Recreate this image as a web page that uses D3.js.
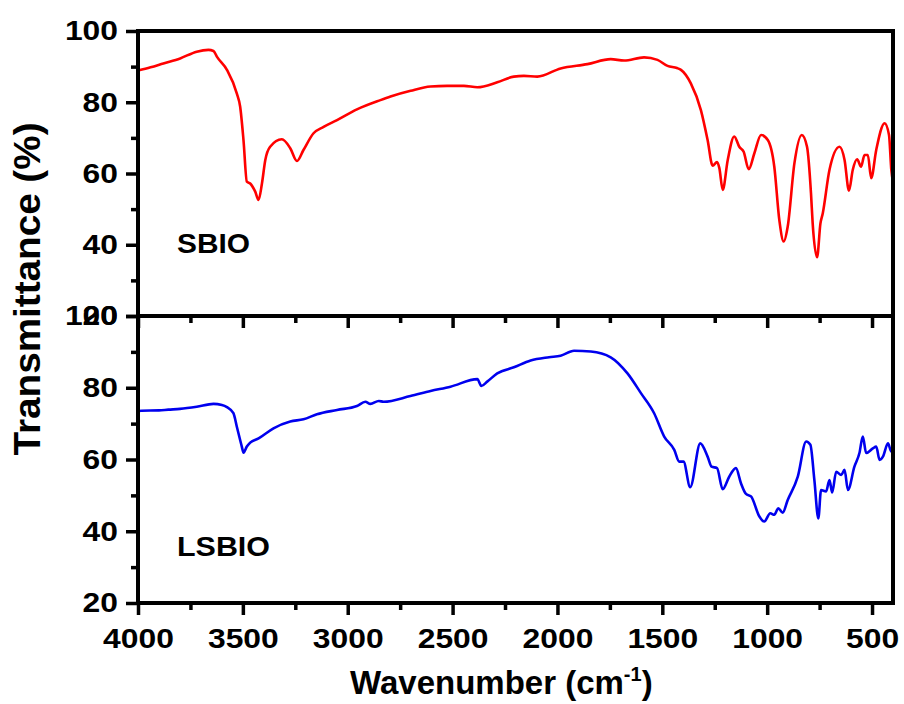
<!DOCTYPE html>
<html>
<head>
<meta charset="utf-8">
<script src="https://cdn.jsdelivr.net/npm/d3@7"></script>
<style>
  body { margin: 0; background: #fff; }
  svg text { font-family: "Liberation Sans", Arial, sans-serif; font-weight: bold; fill: #000; }
</style>
</head>
<body>
<div id="chart"></div>
<script>
// FTIR spectra (wavenumber in cm-1, transmittance in %)
const sbioWavenumber = [4000, 3940, 3879, 3799, 3720, 3664, 3640, 3624, 3576, 3529, 3513, 3497, 3481, 3465, 3441, 3425,
  3409, 3393, 3370, 3314, 3274, 3242, 3211, 3163, 3115, 3051, 2956, 2844, 2796, 2700, 2605, 2526, 2446, 2382, 2287,
  2208, 2160, 2096, 1985, 1857, 1746, 1682, 1587, 1523, 1475, 1430, 1411, 1364, 1316, 1284, 1260, 1239, 1228, 1212,
  1188, 1157, 1133, 1112, 1088, 1061, 1029, 997, 966, 942, 921, 902, 870, 835, 810, 791, 783, 762, 746, 735, 703, 655,
  631, 610, 592, 571, 552, 536, 520, 504, 480, 440, 419, 408, 400];
const sbioT = [88.9, 89.8, 90.9, 92.3, 94.2, 94.7, 94.4, 92.8, 89.1, 82.5, 78.8, 69.4, 57.7, 57.2, 54.9, 52.6,
  57.2, 63.8, 67.5, 69.6, 67.1, 63.5, 66.6, 71.3, 73.1, 75.0, 78.0, 80.6, 81.6, 83.2, 84.4, 84.6, 84.6, 84.2, 85.6,
  87.2, 87.4, 87.2, 89.5, 90.7, 92.1, 91.7, 92.6, 91.9, 90.2, 89.6, 89.1, 85.3, 77.8, 69.4, 62.2, 63.2, 61.5, 55.4,
  63.8, 70.4, 67.5, 66.1, 61.2, 65.7, 70.8, 69.4, 61.9, 46.9, 40.9, 45.1, 62.9, 70.8, 67.5, 54.4, 46.0, 36.5, 46.0, 48.8, 61.0, 67.5,
  63.8, 55.2, 61.0, 64.0, 61.9, 65.2, 65.2, 58.7, 66.6, 74.1, 70.8, 61.0, 57.5];

const lsbioWavenumber = [4000, 3982, 3900, 3855, 3800, 3720, 3640, 3600, 3576, 3545, 3529, 3505, 3497, 3481, 3465,
  3425, 3354, 3274, 3211, 3147, 3051, 2956, 2916, 2892, 2852, 2829, 2701, 2605, 2510, 2382, 2363, 2335, 2287, 2208,
  2128, 2040, 1985, 1921, 1841, 1746, 1666, 1602, 1539, 1491, 1443, 1419, 1399, 1367, 1319, 1284, 1265, 1239, 1212,
  1181, 1149, 1125, 1101, 1077, 1037, 1014, 985, 966, 947, 926, 902, 854, 814, 794, 775, 756, 743, 719, 703, 690, 671,
  647, 631, 615, 584, 560, 544, 528, 496, 480, 464, 448, 424, 408, 400];
const lsbioT = [73.5, 73.6, 73.7, 73.9, 74.1, 74.7, 75.5, 75.2, 74.6, 72.9, 69.2, 63.6, 61.9, 63.6, 64.7,
  65.9, 68.7, 70.6, 71.2, 72.6, 73.8, 74.9, 76.1, 75.5, 76.3, 76.1, 77.7, 79.1, 80.3, 82.4, 80.5, 81.7, 84.0, 85.7,
  87.6, 88.5, 88.9, 90.3, 90.1, 88.5, 84.0, 78.5, 72.9, 66.4, 62.7, 59.4, 59.4, 52.3, 64.5, 60.8, 58.0, 57.6, 51.7,
  55.2, 57.6, 53.4, 50.4, 49.7, 44.1, 42.7, 45.0, 44.6, 46.4, 45.2, 48.7, 55.2, 65.0, 64.1, 54.3, 43.6, 51.5, 51.1, 54.3, 50.8, 56.6,
  55.7, 57.1, 51.5, 58.0, 61.8, 66.4, 61.8, 63.1, 63.6, 59.9, 60.8, 64.5, 62.2, 63.0];

const xMajor = [4000, 3500, 3000, 2500, 2000, 1500, 1000, 500];
const xMinor = [3750, 3250, 2750, 2250, 1750, 1250, 750];
const yMajor = [20, 40, 60, 80, 100];
const yMinor = [30, 50, 70, 90];

const svg = d3.select("#chart").append("svg")
  .attr("width", 904)
  .attr("height", 704);

let x = d3.scaleLinear().domain([4000, 400]).range([138, 893]);
let yTop = d3.scaleLinear().domain([20, 100]).range([316, 31]);
let yBot = d3.scaleLinear().domain([20, 100]).range([603, 316]);

const digitW = 17.7;

function styleAxis(g) {
  g.select(".domain").remove();
  g.selectAll(".tick line").attr("stroke", "#000").attr("stroke-width", 3.5);
}

function leftAxis(y) {
  let g = svg.append("g").attr("transform", "translate(138,0)")
    .call(d3.axisLeft(y).tickValues(yMajor).tickSize(12).tickPadding(8));
  g.selectAll("text")
    .style("font-size", "28px")
    .attr("textLength", d => String(d).length * digitW)
    .attr("lengthAdjust", "spacingAndGlyphs");
  styleAxis(g);
  let m = svg.append("g").attr("transform", "translate(138,0)")
    .call(d3.axisLeft(y).tickValues(yMinor).tickSize(7).tickFormat(""));
  styleAxis(m);
}

function bottomAxis(yPos, labels) {
  let g = svg.append("g").attr("transform", `translate(0,${yPos})`)
    .call(d3.axisBottom(x).tickValues(xMajor).tickSize(12).tickPadding(13)
      .tickFormat(labels ? d3.format("d") : ""));
  if (labels) {
    g.selectAll("text")
      .style("font-size", "28px")
      .attr("textLength", d => String(d).length * digitW)
      .attr("lengthAdjust", "spacingAndGlyphs");
  }
  styleAxis(g);
  let m = svg.append("g").attr("transform", `translate(0,${yPos})`)
    .call(d3.axisBottom(x).tickValues(xMinor).tickSize(7).tickFormat(""));
  styleAxis(m);
}

//--------------------------------------------------
// spectra
//--------------------------------------------------
let sbio = sbioWavenumber.map((w, i) => [w, sbioT[i]]);
let lsbio = lsbioWavenumber.map((w, i) => [w, lsbioT[i]]);

svg.append("path")
  .datum(sbio)
  .attr("fill", "none")
  .attr("stroke", "#ff0000")
  .attr("stroke-width", 2.6)
  .attr("stroke-linejoin", "round")
  .attr("d", d3.line().x(d => x(d[0])).y(d => yTop(d[1])).curve(d3.curveMonotoneX));

svg.append("path")
  .datum(lsbio)
  .attr("fill", "none")
  .attr("stroke", "#0000ee")
  .attr("stroke-width", 2.6)
  .attr("stroke-linejoin", "round")
  .attr("d", d3.line().x(d => x(d[0])).y(d => yBot(d[1])).curve(d3.curveMonotoneX));

//--------------------------------------------------
// frames and axes
//--------------------------------------------------
svg.append("rect")
  .attr("x", x(4000)).attr("y", yTop(100))
  .attr("width", x(400) - x(4000)).attr("height", yTop(20) - yTop(100))
  .attr("fill", "none").attr("stroke", "#000").attr("stroke-width", 4);
svg.append("rect")
  .attr("x", x(4000)).attr("y", yBot(100))
  .attr("width", x(400) - x(4000)).attr("height", yBot(20) - yBot(100))
  .attr("fill", "none").attr("stroke", "#000").attr("stroke-width", 4);

leftAxis(yTop);
leftAxis(yBot);
bottomAxis(yTop(20), false);
bottomAxis(yBot(20), true);

//--------------------------------------------------
// labels
//--------------------------------------------------
svg.append("text")
  .attr("x", 177).attr("y", 253)
  .style("font-size", "28px")
  .attr("textLength", 73).attr("lengthAdjust", "spacingAndGlyphs")
  .text("SBIO");

svg.append("text")
  .attr("x", 177).attr("y", 556)
  .style("font-size", "28px")
  .attr("textLength", 93).attr("lengthAdjust", "spacingAndGlyphs")
  .text("LSBIO");

svg.append("text")
  .attr("transform", "translate(40,289) rotate(-90)")
  .attr("text-anchor", "middle")
  .style("font-size", "36px")
  .attr("textLength", 333).attr("lengthAdjust", "spacingAndGlyphs")
  .text("Transmittance (%)");

let xt = svg.append("text")
  .attr("x", 350).attr("y", 694)
  .style("font-size", "33px");
xt.append("tspan").text("Wavenumber (cm");
xt.append("tspan").attr("dy", -13).style("font-size", "20px").text("-1");
xt.append("tspan").attr("dy", 13).text(")");
</script>
</body>
</html>
